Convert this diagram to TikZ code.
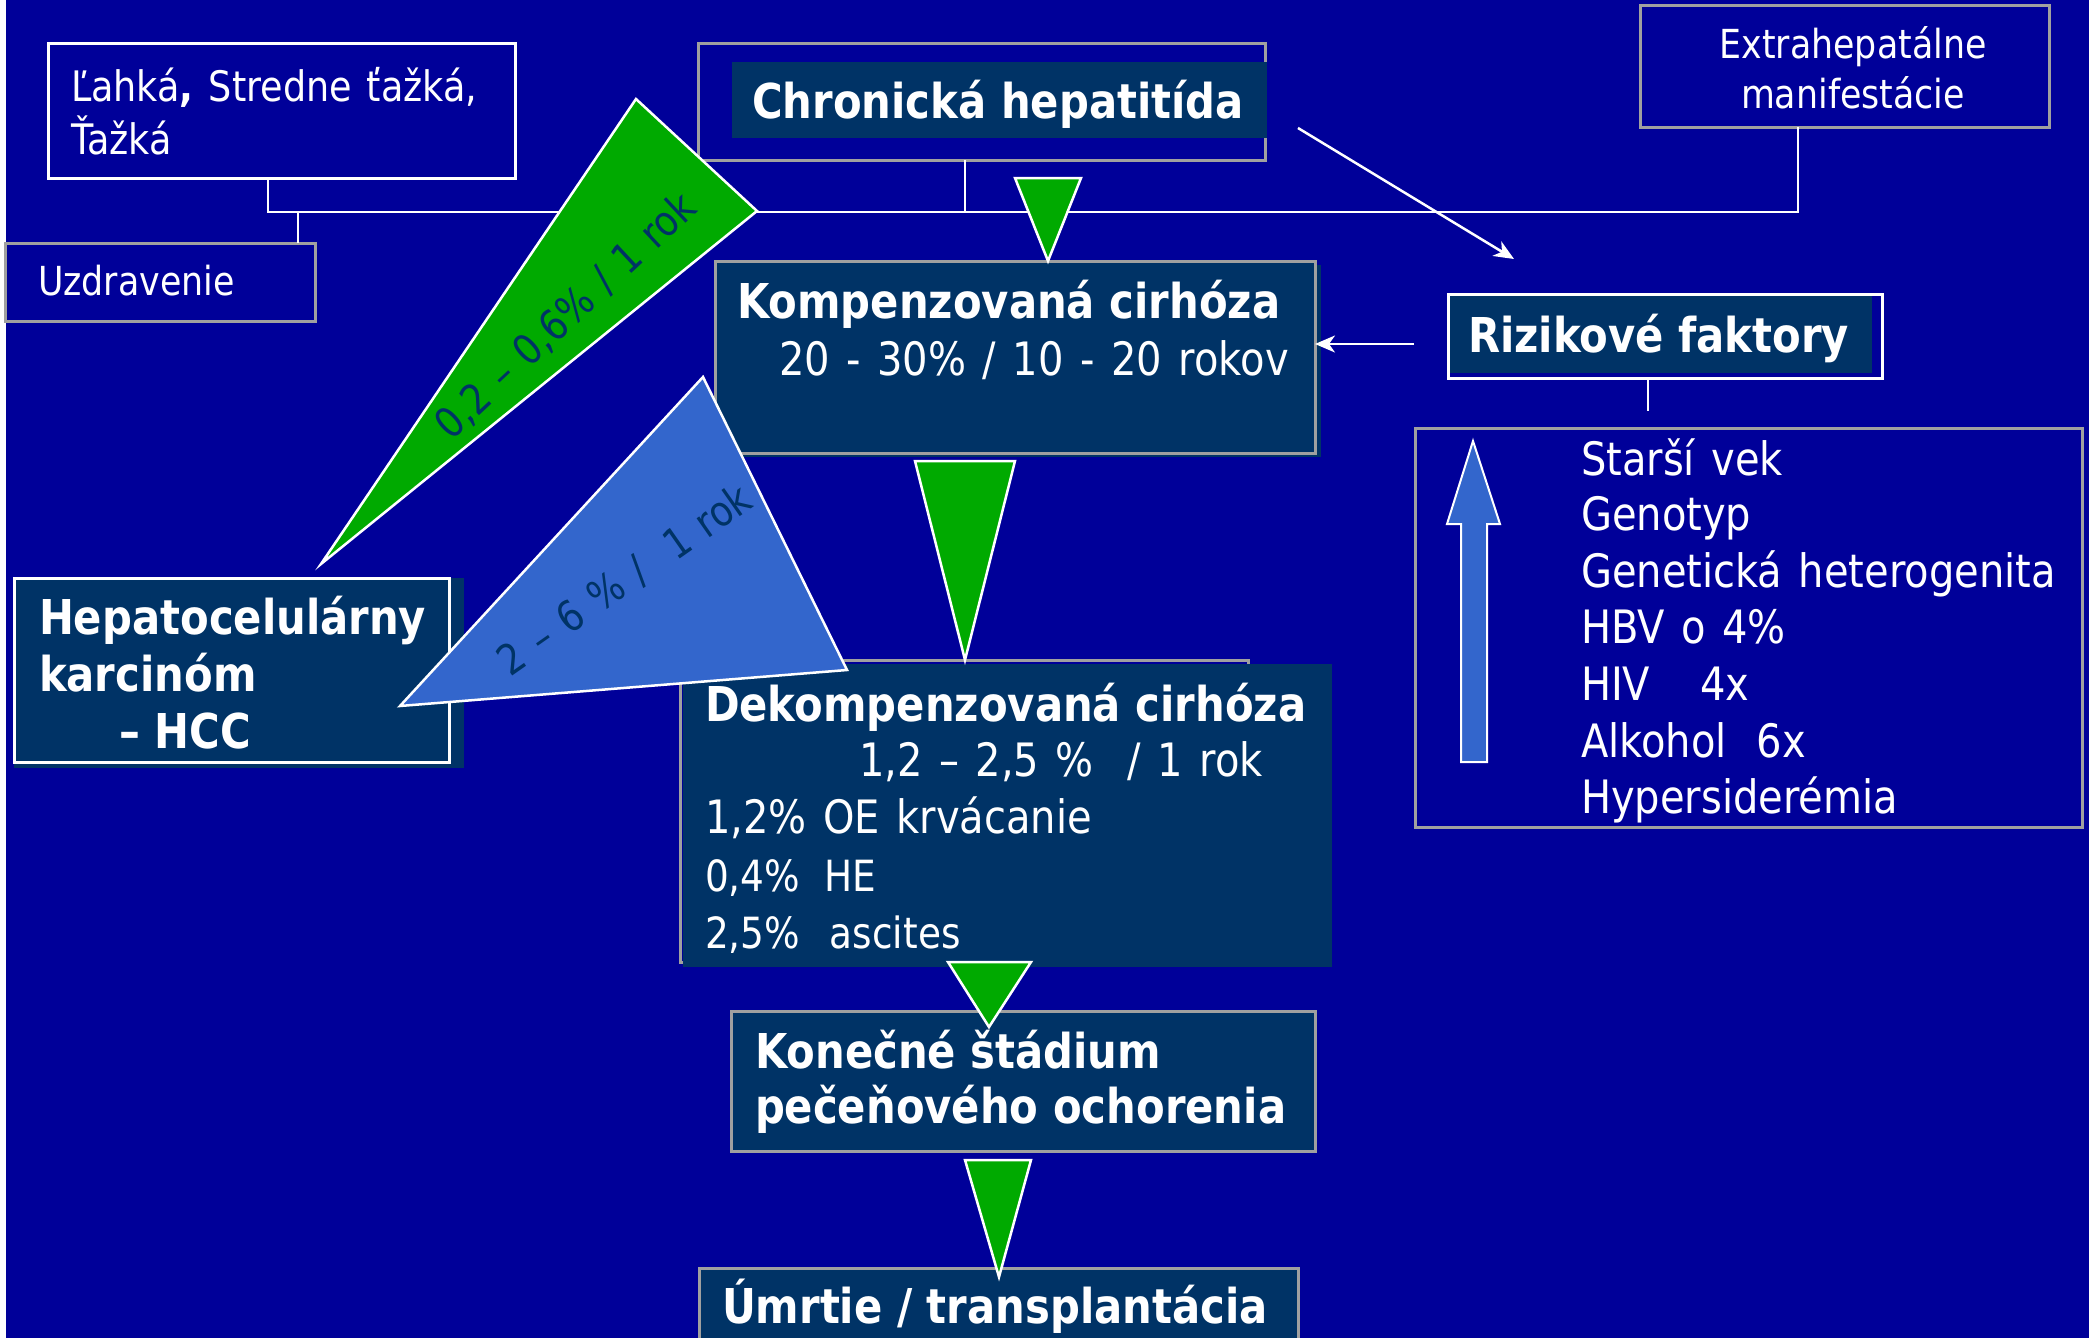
\documentclass[tikz,border=0pt]{standalone}
\usepackage{fontspec}
\setmainfont{DejaVu Sans}[FakeStretch=0.87, UprightFeatures={WordSpace=1.3}]
\usetikzlibrary{arrows.meta,calc}
\definecolor{bgblue}{RGB}{0,0,153}
\definecolor{navy}{RGB}{0,51,102}
\definecolor{grn}{RGB}{0,170,0}
\definecolor{tblue}{RGB}{51,102,204}
\definecolor{gborder}{RGB}{160,160,160}
\begin{document}
\begin{tikzpicture}[x=1pt,y=-1pt,
  every node/.style={inner sep=0pt, outer sep=0pt},
  boxw/.style={draw=white, line width=3pt, rectangle},
  boxg/.style={draw=gborder, line width=3pt, rectangle},
  darkfill/.style={fill=navy},
  btxt/.style={text=white, font=\fontsize{48}{56}\selectfont\bfseries, anchor=base west},
  rtxt/.style={text=white, font=\fontsize{46}{56}\selectfont, anchor=base west},
  mtxt/.style={text=white, font=\fontsize{43}{50}\selectfont, anchor=base west},
  ltxt/.style={text=white, font=\fontsize{42}{50}\selectfont, anchor=base west},
  stxt/.style={text=white, font=\fontsize{40}{48}\selectfont, anchor=base west},
  ttxt/.style={text=navy, font=\fontsize{42}{50}\selectfont},
  conn/.style={draw=white, line width=2.5pt},
  arr/.style={conn, -{Stealth[length=20pt,width=17pt,inset=6pt]}},
  tri/.style={draw=white, line width=2.5pt, line join=miter},
]
\useasboundingbox (0,0) rectangle (2089,1338);
\clip (0,0) rectangle (2089,1338);
\fill[bgblue] (0,0) rectangle (2089,1338);
\fill[white] (0,0) rectangle (6,1338);

% boxes
\node[boxw, minimum width=467pt, minimum height=134pt] (lahka) at (281.5,111) {};
\node[boxg, minimum width=310pt, minimum height=78pt] (uzdr) at (160,282) {};
\node[boxg, minimum width=567pt, minimum height=116pt] (chron) at (981.5,102) {};
\fill[navy] (732,62) rectangle (1267,138);
\node[boxg, minimum width=409pt, minimum height=121pt] (extra) at (1844.5,66.5) {};
\fill[navy] (721,265) rectangle (1321,457);
\node[boxg, darkfill, minimum width=600pt, minimum height=192pt] (komp) at (1015,357) {};
\fill[navy] (1448,294) rectangle (1872,373);
\node[boxw, minimum width=434pt, minimum height=84pt] (riz) at (1665,336) {};
\node[boxg, minimum width=667pt, minimum height=399pt] (risk) at (1748.5,627.5) {};
\fill[navy] (14,578) rectangle (464,768);
\node[boxw, darkfill, minimum width=435pt, minimum height=184pt] (hcc) at (231.5,670) {};
\node[boxg, minimum width=568pt, minimum height=302pt] (dek) at (964,811) {};
\fill[navy] (683,664) rectangle (1332,967);
\node[boxg, darkfill, minimum width=584pt, minimum height=140pt] (kon) at (1023,1081) {};
\node[boxg, darkfill, minimum width=599pt, minimum height=82pt] (umr) at (998.5,1309) {};

% connectors
\coordinate (hl) at (268,212);
\coordinate (hr) at (1798,212);
\coordinate (uzj) at (298,212);
\coordinate (chj) at (965,212);
\draw[conn] (lahka.south -| hl) -- (hl) -- (hr) -- (extra.south -| hr);
\draw[conn] (uzj) -- (uzdr.north -| uzj);
\draw[conn] (chron.south -| chj) -- (chj);
\coordinate (rze) at (1648,411);
\draw[conn] (riz.south -| rze) -- (rze);
\coordinate (ra) at (1414,344);
\draw[arr] (ra) -- (ra -| komp.east);
\coordinate (d1) at (1298,128);
\coordinate (d2) at (1514,259);
\draw[arr] (d1) -- (d2);

% triangles
\draw[tri, fill=grn] (636,99) -- (757,211) -- (321,564) -- cycle;
\draw[tri, fill=tblue] (703,377) -- (847,670) -- (400,706) -- cycle;
\draw[tri, fill=grn] (1015,178) -- (1081,178) -- (1048,261) -- cycle;
\draw[tri, fill=grn] (915,461) -- (1015,461) -- (965,660) -- cycle;
\draw[tri, fill=grn] (948,962) -- (1031,962) -- (989,1027) -- cycle;
\draw[tri, fill=grn] (965,1160) -- (1031,1160) -- (999,1277) -- cycle;

% block arrow
\draw[line width=2pt, draw=white, fill=tblue, line join=miter] (1461,762) -- (1461,524) -- (1447,524) -- (1473,441) -- (1500,524) -- (1487,524) -- (1487,762) -- cycle;

% texts
\node[btxt, anchor=base] (t1) at (998,118) {Chronická hepatitída};
\node[btxt] (t2) at (737,318) {Kompenzovaná cirhóza};
\node[rtxt] (t3) at (779,375) {20 - 30\% / 10 - 20 rokov};
\node[btxt] (t4) at (1468,352) {Rizikové faktory};
\node[stxt, anchor=base] (t5) at (1853,59) {Extrahepatálne};
\node[stxt, anchor=base] (t6) at (1853,108) {manifestácie};
\node[ltxt] (t7) at (71,101) {Ľahká\textbf{,} Stredne ťažká,};
\node[ltxt] (t8) at (71,154) {Ťažká};
\node[stxt] (t9) at (38,295) {Uzdravenie};
\node[btxt] (t10) at (39,634) {Hepatocelulárny};
\node[btxt] (t11) at (39,691) {karcinóm};
\node[btxt] (t12) at (119,748) {– HCC};
\node[btxt] (t13) at (705,721) {Dekompenzovaná cirhóza};
\node[rtxt] (t14) at (859,776) {1,2 – 2,5 \%\hspace{34pt}/ 1 rok};
\node[rtxt] (t15) at (705,833) {1,2\% OE krvácanie};
\node[mtxt] (t16) at (705,891) {0,4\%\hspace{24pt}HE};
\node[mtxt] (t17) at (705,948) {2,5\%\hspace{30pt}ascites};
\node[btxt] (t18) at (755,1068) {Konečné štádium};
\node[btxt] (t19) at (755,1123) {pečeňového ochorenia};
\node[btxt] (t20) at (722,1323) {Úmrtie / transplantácia};
\node[rtxt] (r1) at (1581,475) {Starší vek};
\node[rtxt] (r2) at (1581,530) {Genotyp};
\node[rtxt] (r3) at (1581,587) {Genetická heterogenita};
\node[rtxt] (r4) at (1581,643) {HBV o 4\%};
\node[rtxt] (r5) at (1581,700) {HIV\hspace{50pt}4x};
\node[rtxt] (r6) at (1581,757) {Alkohol\hspace{30pt}6x};
\node[rtxt] (r7) at (1581,813) {Hypersiderémia};
\node[ttxt, rotate=43] (g1) at (566,316) {0,2 – 0,6\% / 1 rok};
\node[ttxt, rotate=35] (b1) at (625,580) {2 – 6 \% /\ \ 1 rok};
\end{tikzpicture}
\end{document}
